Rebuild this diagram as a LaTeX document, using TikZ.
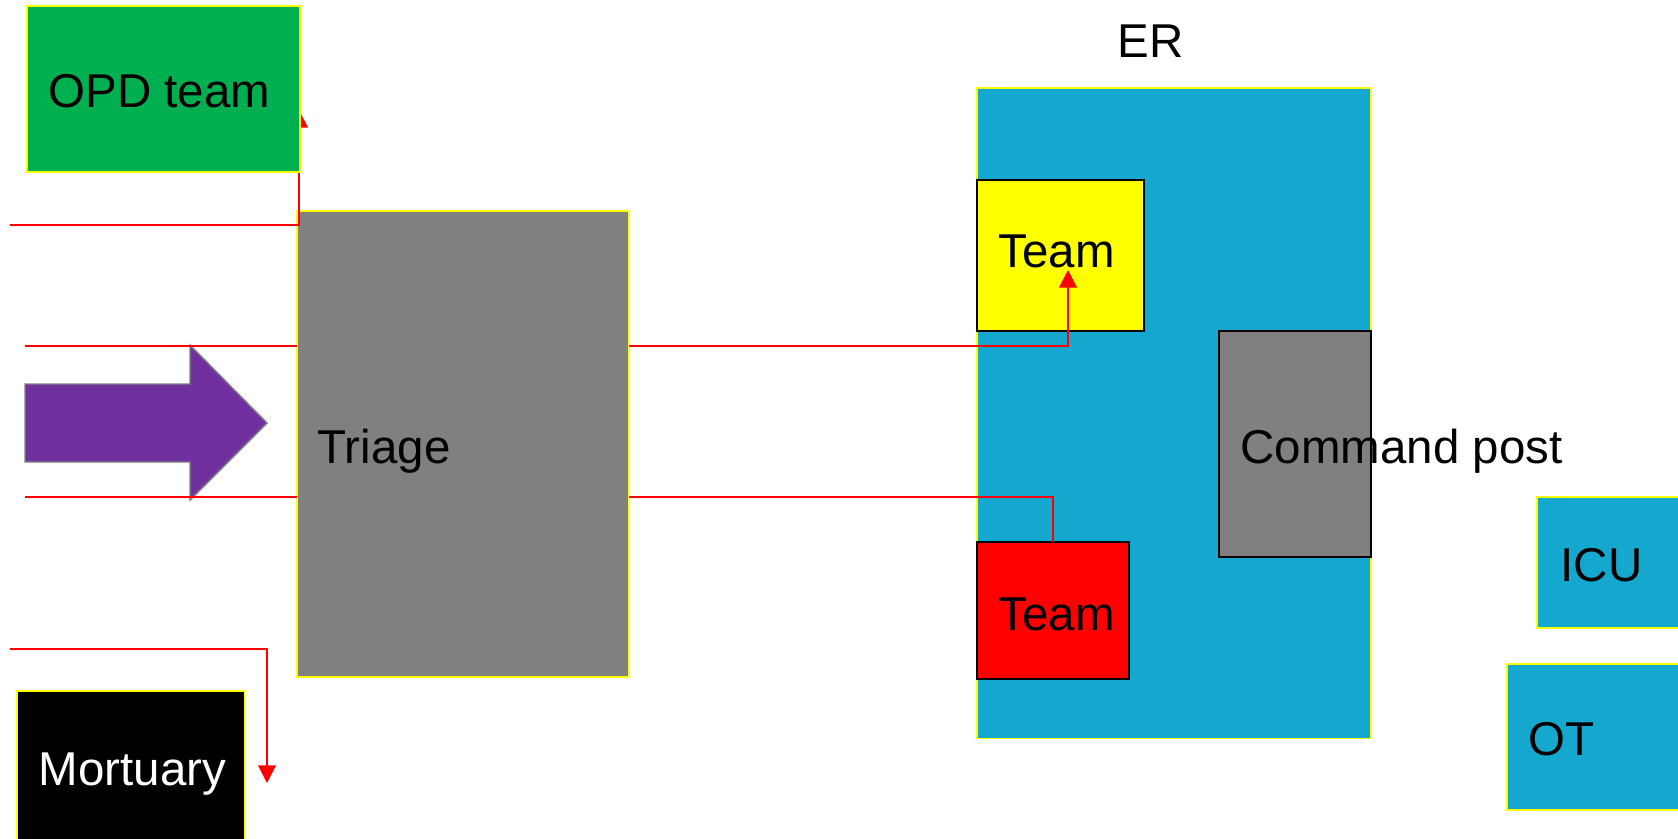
\documentclass[tikz,border=0pt]{standalone}
\usepackage{fontspec}
\setmainfont{Liberation Sans}
\usetikzlibrary{arrows.meta}
\definecolor{opdgreen}{HTML}{00B050}
\definecolor{erblue}{HTML}{14A8CF}
\definecolor{triagegray}{HTML}{808080}
\definecolor{inpurple}{HTML}{7030A0}
\definecolor{flowred}{HTML}{FF0000}
\definecolor{edge}{HTML}{FFFF00}
\newcommand{\Lbl}{\fontsize{13.5}{16}\selectfont}

\begin{document}
\begin{tikzpicture}[x=0.01cm,y=-0.01cm,
  room/.style={draw=edge,line width=0.5pt,inner sep=0pt,outer sep=0pt,anchor=north west},
  teambox/.style={room,draw=black,line width=0.6pt},
  flow/.style={draw=flowred,line width=0.5pt},
  tip/.style={-{Triangle[length=5pt,width=5pt]}},
  lbl/.style={anchor=base west,inner sep=0pt,font=\Lbl}]
  \useasboundingbox (0,0) rectangle (1678,839);

  % rooms
  \node[room,fill=erblue,minimum width=3.94cm,minimum height=6.50cm] (er) at (977,88) {};
  \node[teambox,fill=edge,minimum width=1.67cm,minimum height=1.51cm] (teamA) at (977,180) {};
  \node[teambox,fill=flowred,minimum width=1.52cm,minimum height=1.37cm] (teamB) at (977,542) {};
  \node[teambox,fill=triagegray,minimum width=1.52cm,minimum height=2.26cm] (cmd) at (1219,331) {};
  \node[room,fill=erblue,minimum width=1.60cm,minimum height=1.31cm] (icu) at (1537,497) {};
  \node[room,fill=erblue,minimum width=1.90cm,minimum height=1.46cm] (ot) at (1507,664) {};
  \node[room,fill=black,minimum width=2.28cm,minimum height=1.54cm] (mort) at (17,691) {};
  \node[room,fill=triagegray,minimum width=3.32cm,minimum height=4.66cm] (triage) at (297,211) {};

  \coordinate (opdsrc) at (10,225);
  \coordinate (opdtip) at (299,110);
  \coordinate (in1) at (25,346);
  \coordinate (in2) at (25,497);
  \coordinate (teamtip) at (1068,270);
  \coordinate (mortsrc) at (10,649);
  \coordinate (morttip) at (267,783);

  % incoming patients
  \draw[fill=inpurple,draw=gray,line width=0.4pt]
    (25,384) -- (190,384) -- (190,345) -- (267,423) -- (190,500) -- (190,462) -- (25,462) -- cycle;

  \draw[flow] (in1) -- (in1 -| triage.west);
  \draw[flow] (in2) -- (in2 -| triage.west);
  \draw[flow,tip] (opdsrc) -| (opdtip);
  \draw[flow,tip] (mortsrc) -| (morttip);
  \draw[flow,tip,line width=0.6pt] (triage.east |- in1) -| (teamtip);
  \draw[flow,line width=0.6pt] (triage.east |- in2) -| (teamB.north);

  \node[room,fill=opdgreen,line width=0.6pt,minimum width=2.73cm,minimum height=1.66cm] (opd) at (27,6) {};

  % labels
  \node[lbl] (opdlbl) at (48,107) {OPD team};
  \node[lbl] (erlbl) at (1117,57) {ER};
  \node[lbl] (triagelbl) at (317,463) {Triage};
  \node[lbl] (teamAlbl) at (998,267) {Team};
  \node[lbl] (teamBlbl) at (998,630) {Team};
  \node[lbl] (cmdlbl) at (1240,463) {Command post};
  \node[lbl] (iculbl) at (1560,581) {ICU};
  \node[lbl] (otlbl) at (1528,755) {OT};
  \node[lbl,text=white] (mortlbl) at (38,785) {Mortuary};
\end{tikzpicture}
\end{document}
